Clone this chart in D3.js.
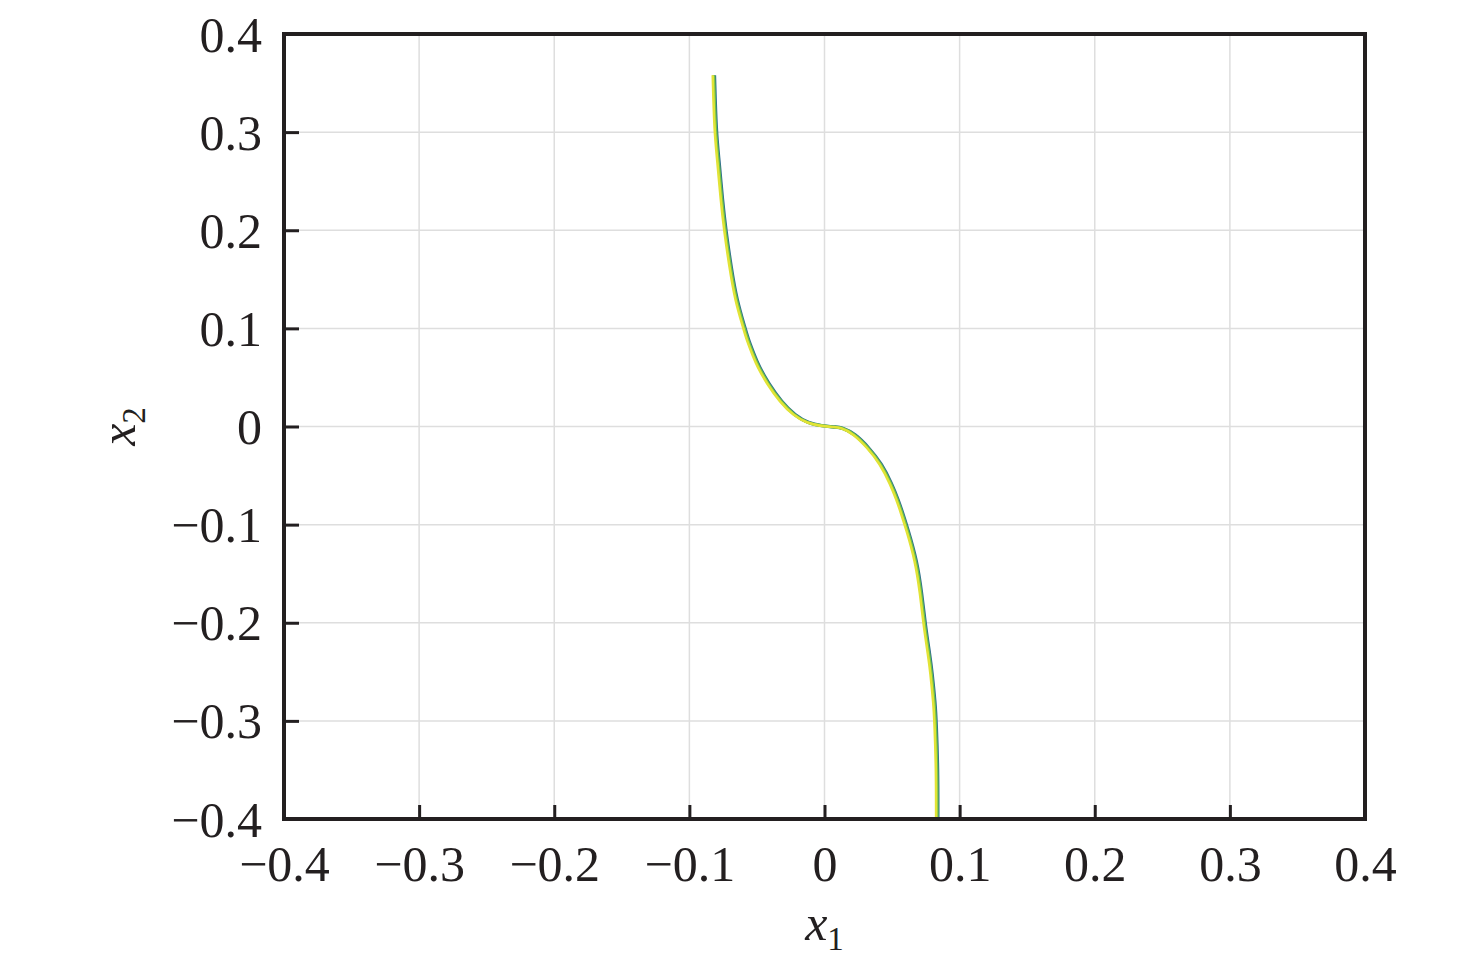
<!DOCTYPE html>
<html><head><meta charset="utf-8">
<script src="https://cdn.jsdelivr.net/npm/d3@7"></script>
<style>body{margin:0;background:#fff;} svg{display:block;}</style>
</head><body>
<script>
// ---- data ----
const xTicks = [-0.4, -0.3, -0.2, -0.1, 0, 0.1, 0.2, 0.3, 0.4];
const yTicks = [-0.4, -0.3, -0.2, -0.1, 0, 0.1, 0.2, 0.3, 0.4];

// phase trajectory (x1, x2)
const x1Values = [-0.0824, -0.0812, -0.0790, -0.0765, -0.0740, -0.0701, -0.0659, -0.0597, -0.0572, -0.0523, -0.0498, -0.0424, -0.0326, -0.0227, -0.0128, -0.0030, 0.0067, 0.0118, 0.0217, 0.0316, 0.0415, 0.0489, 0.0538, 0.0563, 0.0607, 0.0674, 0.0711, 0.0735, 0.0772, 0.0785, 0.0810, 0.0817, 0.0829, 0.0829];
const x2Values = [0.358, 0.300, 0.271, 0.2306, 0.200, 0.1626, 0.1286, 0.100, 0.0878, 0.0707, 0.0622, 0.0436, 0.0248, 0.0112, 0.0034, 0.0007, -0.0007, -0.0007, -0.0075, -0.0211, -0.0381, -0.0585, -0.0755, -0.0857, -0.1044, -0.1367, -0.1707, -0.2013, -0.2354, -0.249, -0.283, -0.302, -0.348, -0.399];

// overlaid runs (same data, tiny visual offset)
const runColors = ["#2f6e8c", "#6cc24a", "#e2e336"];
const runWidths = [3.4, 3.0, 2.6];
const runShift = [1.3, 0.6, -0.4];

// ---- layout ----
const W = 1476, H = 969;
const pL = 284, pR = 1365, pT = 34, pB = 819;
const font = "'Liberation Serif','Times New Roman',Times,serif";
const fs = 50;

const svg = d3.select("body").append("svg").attr("width", W).attr("height", H);
const x = d3.scaleLinear().domain([-0.4, 0.4]).range([pL, pR]);
const y = d3.scaleLinear().domain([-0.4, 0.4]).range([pB, pT]);

const fmt = v => v === 0 ? "0" : (v < 0 ? "\u2212" : "") + Math.abs(v).toFixed(1);

// grid
svg.append("g").selectAll("line").data(xTicks.slice(1, -1)).join("line")
  .attr("x1", d => x(d)).attr("x2", d => x(d)).attr("y1", pT).attr("y2", pB)
  .attr("stroke", "#dedede").attr("stroke-width", 1.5);
svg.append("g").selectAll("line").data(yTicks.slice(1, -1)).join("line")
  .attr("y1", d => y(d)).attr("y2", d => y(d)).attr("x1", pL).attr("x2", pR)
  .attr("stroke", "#dedede").attr("stroke-width", 1.5);

// curves
const pts = x1Values.map((v, i) => [v, x2Values[i]]);
const line = d3.line().x(d => x(d[0])).y(d => y(d[1])).curve(d3.curveBasis);
svg.append("clipPath").attr("id", "clip").append("rect")
  .attr("x", pL).attr("y", pT).attr("width", pR - pL).attr("height", pB - pT);
const cg = svg.append("g").attr("clip-path", "url(#clip)");
runColors.forEach((c, i) => {
  cg.append("path").attr("d", line(pts)).attr("fill", "none")
    .attr("transform", `translate(${runShift[i]},0)`)
    .attr("stroke", c).attr("stroke-width", runWidths[i]).attr("stroke-linejoin", "round");
});

// axes (inward ticks, bottom and left)
const xAxis = d3.axisBottom(x).tickValues(xTicks).tickSize(-14).tickPadding(26).tickFormat(fmt);
const yAxis = d3.axisLeft(y).tickValues(yTicks).tickSize(-15).tickPadding(22).tickFormat(fmt);
const gx = svg.append("g").attr("transform", `translate(0,${pB})`).call(xAxis);
const gy = svg.append("g").attr("transform", `translate(${pL},0)`).call(yAxis);
[gx, gy].forEach(g => {
  g.select(".domain").remove();
  g.selectAll(".tick line").attr("stroke", "#231f20").attr("stroke-width", 3);
  g.selectAll(".tick text").attr("font-family", font).attr("font-size", fs).attr("fill", "#231f20");
});
gy.selectAll(".tick text").attr("dy", "0.34em");

// frame
svg.append("rect").attr("x", pL).attr("y", pT).attr("width", pR - pL).attr("height", pB - pT)
  .attr("fill", "none").attr("stroke", "#231f20").attr("stroke-width", 4);

// axis labels
const xl = svg.append("text").attr("x", x(0)).attr("y", 940).attr("text-anchor", "middle")
  .attr("font-family", font).attr("font-size", fs).attr("fill", "#231f20");
xl.append("tspan").attr("font-style", "italic").text("x");
xl.append("tspan").attr("font-size", fs * 0.66).attr("dy", 10).text("1");

const yl = svg.append("text").attr("transform", `translate(135,${y(0)}) rotate(-90)`).attr("text-anchor", "middle")
  .attr("font-family", font).attr("font-size", fs).attr("fill", "#231f20");
yl.append("tspan").attr("font-style", "italic").text("x");
yl.append("tspan").attr("font-size", fs * 0.66).attr("dy", 10).text("2");
</script>
</body></html>
